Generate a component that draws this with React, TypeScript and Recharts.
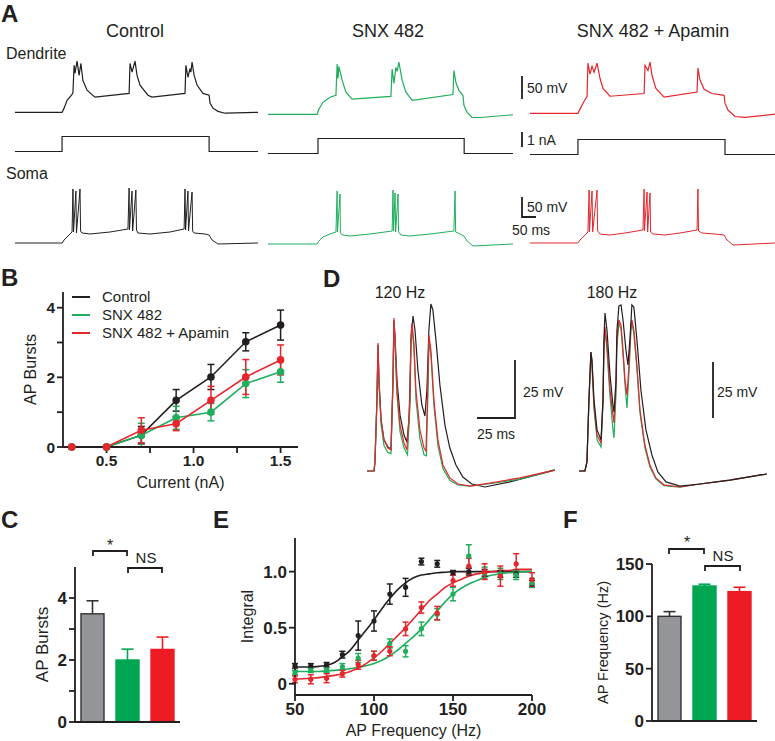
import {
  LineChart,
  Line,
  XAxis,
  YAxis,
  ErrorBar,
  BarChart,
  Bar,
  ComposedChart,
  Scatter,
  Legend,
} from "recharts";

const INK = "#231f20";
const GREEN = "#00a651";
const RED = "#ed1c24";
const GRAY = "#939598";
const TRACE_GREEN = "#1fae5c";
const TRACE_RED = "#e5262d";
const FONT = "'Liberation Sans', Arial, sans-serif";

// ---- A: responses to a current step. [time ms, voltage mV] / [time ms, current nA]
const ctlDend = [
  [0, -70], [160, -70], [167, -61], [177, -44], [194, -31], [197, -27], [201, 32], [204, 15],
  [211, 41], [218, 10], [224, 36], [231, -1], [245, -22], [272, -37], [388, -29], [391, 36],
  [398, 17], [408, 41], [415, 10], [425, -11], [452, -33], [466, -37], [578, -29], [581, 32],
  [588, 6], [595, 25], [598, 17], [602, 39], [609, 10], [619, -11], [639, -29], [660, -33],
  [663, -50], [673, -61], [690, -68], [714, -72], [826, -70],
];
const snxDend = [
  [0, -70], [167, -70], [173, -59], [187, -44], [211, -33], [231, -29], [235, 39], [238, 8],
  [241, 34], [252, 4], [265, -22], [286, -37], [418, -31], [422, 28], [428, -3], [435, 32],
  [439, 23], [445, 43], [456, 4], [469, -22], [490, -40], [629, -27], [632, 25], [639, -1],
  [649, -18], [663, -29], [666, -50], [677, -66], [694, -77], [721, -77], [833, -71],
];
const apaDend = [
  [0, -70], [163, -70], [170, -61], [184, -44], [194, -33], [197, 39], [204, 15], [211, 32],
  [218, 19], [228, 39], [238, 6], [248, -16], [272, -33], [388, -27], [391, 34], [401, 23],
  [408, 41], [415, 12], [428, -16], [456, -35], [568, -24], [571, 28], [578, 2], [592, -18],
  [619, -27], [660, -31], [663, -48], [673, -63], [697, -77], [731, -79], [833, -72],
];
const ctlStep = [[0, 0], [160, 0], [160, 1], [660, 1], [660, 0], [826, 0]];
const snxStep = [[0, 0], [170, 0], [170, 1], [667, 1], [667, 0], [833, 0]];
const apaStep = [[0, 0], [163, 0], [163, 1], [663, 1], [663, 0], [833, 0]];
const ctlSoma = [
  [0, -70], [160, -70], [167, -62.5], [180, -52.5], [194, -42.5], [197, 65], [199, -42.5],
  [207, 60], [209, -45], [221, 65], [223, -40], [228, -45], [255, -47.5], [323, -42.5],
  [384, -35], [388, 67.5], [389, -37.5], [398, 60], [400, -40], [411, 62.5], [413, -37.5],
  [418, -45], [459, -47.5], [527, -42.5], [575, -35], [578, 65], [580, -37.5], [588, 60],
  [590, -40], [602, 57.5], [604, -40], [609, -45], [646, -47.5], [660, -50], [670, -62.5],
  [690, -72.5], [826, -70],
];
const snxSoma = [
  [0, -70], [167, -70], [173, -62.5], [187, -52.5], [211, -45], [231, -40], [235, 62.5],
  [236, -40], [245, 55], [246, -42.5], [255, -47.5], [279, -50], [347, -45], [422, -37.5],
  [425, 65], [427, -37.5], [432, 57.5], [434, -40], [442, 55], [444, -40], [452, -47.5],
  [483, -50], [551, -45], [632, -37.5], [636, 62.5], [638, -40], [646, -42.5], [666, -50],
  [677, -62.5], [697, -75], [833, -70],
];
const apaSoma = [
  [0, -70], [163, -70], [170, -62.5], [184, -52.5], [197, -42.5], [201, 62.5], [202, -42.5],
  [211, 60], [213, -42.5], [228, 62.5], [230, -40], [238, -47.5], [272, -50], [323, -45],
  [384, -37.5], [388, 65], [389, -40], [398, 57.5], [400, -42.5], [408, 55], [410, -42.5],
  [418, -47.5], [459, -50], [510, -45], [568, -37.5], [571, 65], [573, -40], [585, -45],
  [629, -47.5], [660, -50], [670, -62.5], [690, -75], [833, -70],
];

// ---- B: bursts vs injected current
const currents = [0.3, 0.5, 0.7, 0.9, 1.1, 1.3, 1.5];
const burstsCtl = [0, 0, 0.34, 1.34, 2.01, 3.02, 3.5];
const burstsCtlErr = [0, 0, 0.25, 0.31, 0.36, 0.26, 0.43];
const burstsSnx = [0, 0, 0.34, 0.84, 1.0, 1.82, 2.16];
const burstsSnxErr = [0, 0, 0.34, 0.33, 0.25, 0.4, 0.3];
const burstsApa = [0, 0, 0.48, 0.67, 1.34, 2.01, 2.5];
const burstsApaErr = [0, 0, 0.36, 0.2, 0.4, 0.5, 0.43];

// ---- C / F: group means
const groups = ["Control", "SNX 482", "SNX 482 + Apamin"];
const burstMean = [3.49, 2.0, 2.34];
const burstSem = [0.42, 0.35, 0.4];
const freqMean = [100, 129, 123.6];
const freqSem = [4.5, 1.7, 4.2];

// ---- D: spike trains at 120 and 180 Hz. [time ms, mV above rest]
const ctl120 = [
  [0, 0], [4.6, 0], [5.2, 3.9], [6.5, 30.6], [7.2, 54.3], [7.8, 39.2], [9.2, 22], [11.1, 13.4],
  [13.7, 10.3], [15.7, 9.5], [17, 39.2], [17.6, 65], [18.3, 58.6], [19.6, 39.2], [21.6, 24.1],
  [24.2, 15.5], [26.1, 12.5], [27.5, 22], [28.8, 56.5], [30.1, 66.8], [31.4, 60.8], [33.3, 43.5],
  [35.9, 28.4], [37.9, 23.7], [39.2, 34.9], [40.5, 60.8], [41.8, 72], [43.1, 69.4], [45.1, 56.5],
  [47.7, 37.1], [51, 19.8], [54.2, 9.9], [58.2, 2.6], [62.7, -2.6], [68.6, -5.6], [77.1, -6.9],
  [93.5, -4.7], [122.9, 0.4],
];
const snx120 = [
  [0, 0], [4.6, 0], [5.2, 3.9], [6.5, 30], [7.2, 54], [7.8, 38], [9.2, 20], [11.1, 11],
  [13.7, 8], [15.7, 7.5], [17, 38], [17.6, 64], [18.3, 55], [19.6, 33], [21.6, 17], [24.2, 10],
  [26.5, 7], [28.1, 28], [28.8, 58], [29.4, 62], [30.7, 53], [32, 31], [34.6, 14], [37.3, 7],
  [38.9, 6.5], [39.9, 35], [40.5, 56], [41.8, 50], [43.8, 28], [46.4, 11], [49.7, 1],
  [54.2, -4], [59.5, -6], [67.3, -6.5], [80.4, -5.5], [100, -3.5], [122.9, 0.6],
];
const apa120 = [
  [0, 0], [4.6, 0], [5.2, 3.9], [6.5, 30.6], [7.2, 55.2], [7.8, 39.2], [9.2, 22], [11.1, 13.4],
  [13.7, 9.9], [15.7, 9.1], [17, 39.2], [17.6, 65.9], [18.3, 56.5], [19.6, 34.9], [21.6, 19.8],
  [24.2, 12.1], [26.1, 9.1], [28.1, 30.6], [28.8, 58], [29.4, 63.8], [30.7, 55], [32, 34.9],
  [34.6, 17.7], [37.3, 9.9], [38.6, 8.6], [39.9, 39.2], [40.5, 58.6], [41.8, 52.2], [43.8, 30.6],
  [46.4, 13.4], [49.7, 2.6], [54.2, -3], [59.5, -5.6], [67.3, -6.5], [80.4, -5.2], [100, -3],
  [122.9, 0.4],
];
const ctl180 = [
  [0, 0], [3.9, 0], [5.2, 3.9], [6.5, 30.6], [7.8, 51.3], [8.5, 47.8], [9.8, 30.6], [11.8, 17.7],
  [14.4, 13.4], [15.7, 30.6], [16.3, 56.5], [17, 68.1], [18.3, 60.8], [20.3, 41.4], [22.2, 28.4],
  [22.9, 25.4], [24.2, 38.8], [24.8, 60.3], [26.1, 71.1], [27.5, 71.6], [28.8, 65.1], [30.7, 52.2],
  [32, 45.7], [33.3, 56.5], [34.6, 71.6], [35.9, 70.7], [37.9, 56.5], [40.5, 34.9], [43.8, 17.7],
  [47.7, 6.9], [51.6, -0.4], [56.9, -4.7], [66, -6.5], [79.1, -5.6], [98.7, -3.9], [122.9, -1.3],
];
const snx180 = [
  [0, 0], [3.9, 0], [5.2, 3.9], [6.5, 30.6], [7.8, 50], [8.5, 45], [9.8, 27], [11.8, 13.4],
  [14.4, 10.3], [15.7, 29], [16.3, 52], [17, 60.8], [18.3, 52], [20.3, 32], [22.2, 18],
  [22.9, 14.2], [24.2, 33], [24.8, 54], [26.1, 63.8], [27.5, 61], [28.8, 50], [30.1, 37],
  [31.4, 27.2], [32.7, 42], [34, 61], [34.6, 63.8], [35.9, 59], [37.9, 44], [39.9, 25],
  [43.1, 10], [46.4, 1.7], [50.3, -3.4], [55.6, -6.3], [66, -7], [79.1, -5.6], [98.7, -3.9],
  [122.9, -1.3],
];
const apa180 = [
  [0, 0], [3.9, 0], [5.2, 3.9], [6.5, 30.6], [7.8, 51.3], [8.5, 47], [9.8, 28.4], [11.8, 15.5],
  [14.4, 12.1], [15.7, 30.6], [16.3, 54.3], [17, 62.1], [18.3, 54.3], [20.3, 34.9], [22.2, 24.1],
  [22.9, 20.7], [24.2, 37.1], [24.8, 56.5], [26.1, 65.1], [27.5, 62.9], [28.8, 52.2], [30.1, 39.2],
  [31.4, 32.8], [32.7, 45.7], [34, 62.9], [34.6, 65.1], [35.9, 60.8], [37.9, 45.7], [39.9, 26.3],
  [43.1, 11.2], [46.4, 2.6], [50.3, -3], [55.6, -6], [66, -6.9], [79.1, -5.6], [98.7, -3.9],
  [122.9, -1.3],
];

// ---- E: normalized integral vs AP frequency
const freqHz = [50, 60, 70, 80, 90, 100, 110, 120, 130, 140, 150, 160, 170, 180, 190, 200];
const intCtl = [0.16, 0.16, 0.17, 0.26, 0.43, 0.56, 0.8, 0.86, 1.09, 1.07, 0.99, 1.0, 0.99, 0.98, 0.98, 0.89];
const intCtlErr = [0.02, 0.02, 0.02, 0.03, 0.13, 0.09, 0.09, 0.08, 0.03, 0.03, 0.02, 0.03, 0.03, 0.03, 0.03, 0.03];
const intSnx = [0.1, 0.12, 0.12, 0.15, 0.23, 0.25, 0.36, 0.29, 0.49, 0.62, 0.8, 1.14, 0.99, 0.98, 0.97, 0.9];
const intSnxErr = [0.02, 0.02, 0.02, 0.03, 0.04, 0.04, 0.04, 0.05, 0.06, 0.05, 0.06, 0.1, 0.05, 0.05, 0.04, 0.04];
const intApa = [0.04, 0.04, 0.05, 0.09, 0.17, 0.25, 0.29, 0.49, 0.68, 0.63, 0.92, 1.05, 1.0, 0.96, 1.07, 0.93];
const intApaErr = [0.03, 0.04, 0.04, 0.03, 0.04, 0.04, 0.04, 0.06, 0.05, 0.06, 0.05, 0.07, 0.07, 0.09, 0.09, 0.06];
const fitHz = [
  50, 55, 60, 65, 70, 75, 80, 85, 90, 95, 100, 105, 110, 115, 120, 125, 130, 135, 140, 145, 150,
  155, 160, 165, 170, 175, 180, 185, 190, 195, 200,
];
const fitCtl = [
  0.15, 0.15, 0.15, 0.155, 0.165, 0.19, 0.24, 0.3, 0.39, 0.48, 0.57, 0.67, 0.76, 0.84, 0.9, 0.945,
  0.97, 0.98, 0.99, 0.995, 1.0, 1.0, 1.0, 1.0, 1.0, 1.0, 1.0, 1.0, 1.0, 1.0, 1.0,
];
const fitSnx = [
  0.11, 0.11, 0.11, 0.11, 0.115, 0.12, 0.125, 0.135, 0.145, 0.16, 0.18, 0.21, 0.25, 0.3, 0.36,
  0.42, 0.49, 0.57, 0.65, 0.73, 0.8, 0.85, 0.89, 0.92, 0.95, 0.97, 0.98, 0.99, 0.995, 1.0, 1.0,
];
const fitApa = [
  0.04, 0.045, 0.05, 0.055, 0.065, 0.075, 0.09, 0.11, 0.14, 0.18, 0.23, 0.29, 0.36, 0.43, 0.5,
  0.58, 0.66, 0.74, 0.8, 0.86, 0.9, 0.93, 0.96, 0.98, 0.99, 1.0, 1.01, 1.01, 1.02, 1.02, 1.02,
];

const pts = (a: number[][]) => a.map(([t, v]) => ({ t, v }));

const tickStyle = (size: number) => ({ fill: INK, fontSize: size, fontWeight: 700 });
const axisLine = { stroke: INK, strokeWidth: 1.8 };

type Series = { data: number[][]; color: string };

function Trace({ left, top, width, height, xMax, yDomain, series, sw = 1.2 }: {
  left: number; top: number; width: number; height: number; xMax: number;
  yDomain: number[]; series: Series[]; sw?: number;
}) {
  return (
    <div style={{ position: "absolute", left, top }}>
      <LineChart width={width} height={height} margin={{ top: 0, right: 0, bottom: 0, left: 0 }}>
        <XAxis type="number" dataKey="t" domain={[0, xMax]} hide />
        <YAxis type="number" domain={yDomain} hide />
        {series.map((s, i) => (
          <Line key={i} data={pts(s.data)} dataKey="v" type="linear" stroke={s.color}
            strokeWidth={sw} dot={false} isAnimationActive={false} />
        ))}
      </LineChart>
    </div>
  );
}

function barWithSem(fills: string[], edges: string[]) {
  return (p: any) => {
    const { x, y, width, height, index, payload } = p;
    const perUnit = height / payload.mean;
    const top = y - payload.sem * perUnit;
    const cx = x + width / 2;
    const edge = edges[index];
    return (
      <g>
        <line x1={cx} x2={cx} y1={y} y2={top} stroke={edge} strokeWidth={1.6} />
        <line x1={cx - 6} x2={cx + 6} y1={top} y2={top} stroke={edge} strokeWidth={1.6} />
        <rect x={x} y={y} width={width} height={height} fill={fills[index]} stroke={edge} strokeWidth={1.4} />
      </g>
    );
  };
}

const barFills = [GRAY, GREEN, RED];
const barEdges = ["#333333", GREEN, RED];

function BurstCurve() {
  const data = currents.map((x, i) => ({
    x, ctl: burstsCtl[i], ctlE: burstsCtlErr[i], snx: burstsSnx[i], snxE: burstsSnxErr[i],
    apa: burstsApa[i], apaE: burstsApaErr[i],
  }));
  const items = [
    { name: "Control", color: INK },
    { name: "SNX 482", color: TRACE_GREEN },
    { name: "SNX 482 + Apamin", color: TRACE_RED },
  ];
  const keys = [["ctl", INK], ["snx", TRACE_GREEN], ["apa", TRACE_RED]];
  return (
    <div style={{ position: "absolute", left: 0, top: 280 }}>
      <LineChart width={310} height={213} data={data} margin={{ top: 12, right: 12, bottom: 0, left: 0 }}>
        <XAxis type="number" dataKey="x" domain={[0.25, 1.6]} ticks={[0.5, 0.75, 1, 1.25, 1.5]} interval={0}
          tickFormatter={(v: number) => (Math.abs(v * 2 - Math.round(v * 2)) < 1e-6 ? v.toFixed(1) : "")}
          axisLine={axisLine} tickLine={axisLine} tick={tickStyle(15.5)} height={46}
          label={{ value: "Current (nA)", position: "insideBottom", offset: 5, fontSize: 16, fill: INK }} />
        <YAxis type="number" domain={[0, 4.45]} ticks={[0, 1, 2, 3, 4]} width={63} interval={0}
          tickFormatter={(v: number) => (v % 2 === 0 ? String(v) : "")}
          axisLine={axisLine} tickLine={axisLine} tick={tickStyle(15.5)}
          label={{ value: "AP Bursts", angle: -90, position: "insideLeft", offset: 30, fontSize: 16, fill: INK, style: { textAnchor: "middle" } }} />
        <Legend layout="vertical" align="center" verticalAlign="middle"
          wrapperStyle={{ left: 72, top: 8, width: 220 }}
          content={() => (
            <div style={{ fontSize: 15, color: INK, lineHeight: "18px" }}>
              {items.map((it) => (
                <div key={it.name} style={{ display: "flex", alignItems: "center" }}>
                  <span style={{ display: "inline-block", width: 18, borderTop: `2px solid ${it.color}`, marginRight: 12 }} />
                  {it.name}
                </div>
              ))}
            </div>
          )} />
        {keys.map(([k, c]) => (
          <Line key={k} dataKey={k} stroke={c} strokeWidth={1.6} isAnimationActive={false}
            dot={{ r: 3, fill: c, stroke: c }}>
            <ErrorBar dataKey={`${k}E`} direction="y" width={3.5} stroke={c} strokeWidth={1.5} />
          </Line>
        ))}
      </LineChart>
    </div>
  );
}

function GroupBars({ left, top, width, height, yWidth, mean, sem, domain, ticks, fmt, label, labelOffset, labelSize }: {
  left: number; top: number; width: number; height: number; yWidth: number; mean: number[];
  sem: number[]; domain: number[]; ticks: number[]; fmt: (v: number) => string; label: string;
  labelOffset: number; labelSize: number;
}) {
  const data = groups.map((name, i) => ({ name, mean: mean[i], sem: sem[i] }));
  return (
    <div style={{ position: "absolute", left, top }}>
      <BarChart width={width} height={height} data={data} margin={{ top: 12, right: 5, bottom: 0, left: 0 }}>
        <XAxis dataKey="name" tick={false} tickLine={false} axisLine={axisLine} height={14} />
        <YAxis type="number" domain={domain} ticks={ticks} width={yWidth} tickFormatter={fmt} interval={0}
          axisLine={axisLine} tickLine={axisLine} tick={tickStyle(17)}
          label={{ value: label, angle: -90, position: "insideLeft", offset: labelOffset, fontSize: labelSize, fill: INK, style: { textAnchor: "middle" } }} />
        <Bar dataKey="mean" barSize={23} isAnimationActive={false} shape={barWithSem(barFills, barEdges)} />
      </BarChart>
    </div>
  );
}

function IntegralCurve() {
  const sets = [
    { fit: fitCtl, y: intCtl, e: intCtlErr, c: INK },
    { fit: fitSnx, y: intSnx, e: intSnxErr, c: TRACE_GREEN },
    { fit: fitApa, y: intApa, e: intApaErr, c: TRACE_RED },
  ];
  return (
    <div style={{ position: "absolute", left: 220, top: 526 }}>
      <ComposedChart width={332} height={215} margin={{ top: 12, right: 20, bottom: 0, left: 0 }}>
        <XAxis type="number" dataKey="f" domain={[50, 200]} ticks={[50, 100, 150, 200]} interval={0}
          axisLine={axisLine} tickLine={axisLine} tick={tickStyle(17)} height={46}
          label={{ value: "AP Frequency (Hz)", position: "insideBottom", offset: 5, fontSize: 16, fill: INK }} />
        <YAxis type="number" domain={[-0.1, 1.3]} ticks={[0, 0.5, 1]} width={75} interval={0}
          tickFormatter={(v: number) => (v === 0 ? "0" : v.toFixed(1))}
          axisLine={axisLine} tickLine={axisLine} tick={tickStyle(17)}
          label={{ value: "Integral", angle: -90, position: "insideLeft", offset: 27, fontSize: 16, fill: INK, style: { textAnchor: "middle" } }} />
        {sets.map((s, i) => (
          <Line key={`fit${i}`} data={fitHz.map((f, j) => ({ f, v: s.fit[j] }))} dataKey="v" type="monotone"
            stroke={s.c} strokeWidth={1.6} dot={false} isAnimationActive={false} />
        ))}
        {sets.map((s, i) => (
          <Scatter key={`pts${i}`} data={freqHz.map((f, j) => ({ f, v: s.y[j], e: s.e[j] }))} dataKey="v"
            isAnimationActive={false} fill={s.c}
            shape={(p: any) => <circle cx={p.cx} cy={p.cy} r={2.6} fill={s.c} />}>
            <ErrorBar dataKey="e" direction="y" width={3} stroke={s.c} strokeWidth={1.5} />
          </Scatter>
        ))}
      </ComposedChart>
    </div>
  );
}

function Annotations() {
  const t = (x: number, y: number, s: string, size: number, extra: any = {}) => (
    <text x={x} y={y} fontSize={size} fill={INK} {...extra}>{s}</text>
  );
  const bold = { fontWeight: 700 };
  const mid = { textAnchor: "middle" };
  const line = { stroke: INK, strokeWidth: 1.8, fill: "none" };
  return (
    <svg width={775} height={741} style={{ position: "absolute", left: 0, top: 0, pointerEvents: "none" }}>
      {t(1, 22, "A", 24, bold)}
      {t(1, 286, "B", 24, bold)}
      {t(1, 528, "C", 24, bold)}
      {t(323, 287, "D", 24, bold)}
      {t(213, 528, "E", 24, bold)}
      {t(563, 528, "F", 24, bold)}
      {t(135, 36.5, "Control", 18, mid)}
      {t(388, 36.5, "SNX 482", 18, mid)}
      {t(653, 36.5, "SNX 482 + Apamin", 18, mid)}
      {t(6, 59, "Dendrite", 16)}
      {t(6, 179, "Soma", 16)}
      {t(527, 93, "50 mV", 14)}
      {t(527, 145, "1 nA", 14)}
      {t(527, 212, "50 mV", 14)}
      {t(531, 235, "50 ms", 14, mid)}
      <path d="M522,76 V99 M522,132 V147 M522,197 V217 H536" {...line} />
      {t(400, 298, "120 Hz", 16, mid)}
      {t(612, 298, "180 Hz", 16, mid)}
      {t(523, 397, "25 mV", 14)}
      {t(477, 439, "25 ms", 14)}
      {t(717, 397, "25 mV", 14)}
      <path d="M477,418 H515 V360 M713,362 V418" {...line} />
      {t(110, 551, "*", 16, mid)}
      {t(146, 563, "NS", 15, mid)}
      <path d="M93,556 V551 H127 V556 M128,573 V568 H162 V573" {...line} />
      {t(687, 548, "*", 16, mid)}
      {t(723, 561, "NS", 15, mid)}
      <path d="M669,554 V549 H704 V554 M705,571 V566 H740 V571" {...line} />
    </svg>
  );
}

export default function App() {
  const dendY = [-90, 50];
  const stepY = [-0.5, 1.5];
  const somaY = [-90, 80];
  const dY = [-10, 75];
  return (
    <div style={{ position: "absolute", left: 0, top: 0, width: 775, height: 741, background: "#fff", fontFamily: FONT, color: INK }}>
      <Trace left={15} top={56.7} width={245} height={64.5} xMax={833} yDomain={dendY} series={[{ data: ctlDend, color: INK }]} />
      <Trace left={268} top={58.7} width={245} height={64.5} xMax={833} yDomain={dendY} series={[{ data: snxDend, color: TRACE_GREEN }]} />
      <Trace left={530} top={57.7} width={245} height={64.5} xMax={833} yDomain={dendY} series={[{ data: apaDend, color: TRACE_RED }]} />
      <Trace left={15} top={128.5} width={245} height={30} xMax={833} yDomain={stepY} series={[{ data: ctlStep, color: INK }]} />
      <Trace left={268} top={130.5} width={245} height={30} xMax={833} yDomain={stepY} series={[{ data: snxStep, color: INK }]} />
      <Trace left={530} top={131.5} width={245} height={30} xMax={833} yDomain={stepY} series={[{ data: apaStep, color: INK }]} />
      <Trace left={15} top={183} width={245} height={68} xMax={833} yDomain={somaY} sw={1} series={[{ data: ctlSoma, color: INK }]} />
      <Trace left={268} top={184} width={245} height={68} xMax={833} yDomain={somaY} sw={1} series={[{ data: snxSoma, color: TRACE_GREEN }]} />
      <Trace left={530} top={183} width={245} height={68} xMax={833} yDomain={somaY} sw={1} series={[{ data: apaSoma, color: TRACE_RED }]} />

      <BurstCurve />

      <Trace left={367} top={297} width={188} height={197.2} xMax={123} yDomain={dY}
        series={[{ data: ctl120, color: INK }, { data: snx120, color: TRACE_GREEN }, { data: apa120, color: TRACE_RED }]} />
      <Trace left={579} top={297} width={188} height={197.2} xMax={123} yDomain={dY}
        series={[{ data: snx180, color: TRACE_GREEN }, { data: apa180, color: TRACE_RED }, { data: ctl180, color: INK }]} />

      <GroupBars left={0} top={555} width={185} height={181} yWidth={75} mean={burstMean} sem={burstSem}
        domain={[0, 5]} ticks={[0, 1, 2, 3, 4]} fmt={(v) => (v % 2 === 0 ? String(v) : "")}
        label="AP Bursts" labelOffset={42} labelSize={17} />
      <IntegralCurve />
      <GroupBars left={550} top={552} width={212} height={183} yWidth={102} mean={freqMean} sem={freqSem}
        domain={[0, 150]} ticks={[0, 50, 100, 150]} fmt={(v) => String(v)}
        label="AP Frequency (Hz)" labelOffset={53} labelSize={14.5} />

      <Annotations />
    </div>
  );
}
